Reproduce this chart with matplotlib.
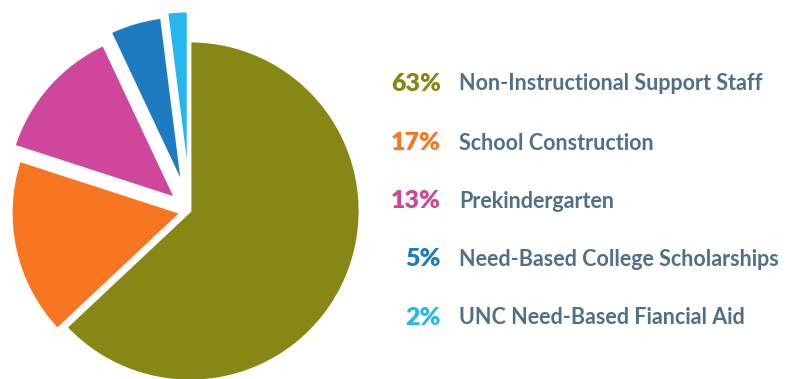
import matplotlib.pyplot as plt

# dati
shares = [63, 17, 13, 5, 2]
labels = ['Non-Instructional Support Staff', 'School Construction', 'Prekindergarten',
          'Need-Based College Scholarships', 'UNC Need-Based Fiancial Aid']
colors = ['#878716', '#f97621', '#cf479b', '#1f7bc1', '#25b7ee']
# spostamento delle fette in pixel
explode = [0, 9, 19, 26, 30]

W, H = 792, 379
fig = plt.figure(figsize=(W / 100, H / 100), dpi=100)
ax = fig.add_axes([0, 0, 1, 1])

# torta in coordinate pixel
ax.pie(shares, colors=colors, explode=explode, startangle=90, counterclock=False,
       center=(190, H - 211), radius=170,
       wedgeprops=dict(edgecolor='white', linewidth=2))
ax.set_xlim(0, W)
ax.set_ylim(0, H)
ax.axis('off')

# legenda testuale
ys = [84, 143, 201, 259, 318]
for y, s, lab, c in zip(ys, shares, labels, colors):
    ax.text(441, H - y, f'{s}%', color=c, fontsize=18, fontweight='heavy',
            family='Lato', ha='right', va='center')
    ax.text(459, H - y, lab, color='#4e7186', fontsize=15.5, fontweight='bold',
            family='Lato', ha='left', va='center')

fig.savefig('out.png', dpi=100)
